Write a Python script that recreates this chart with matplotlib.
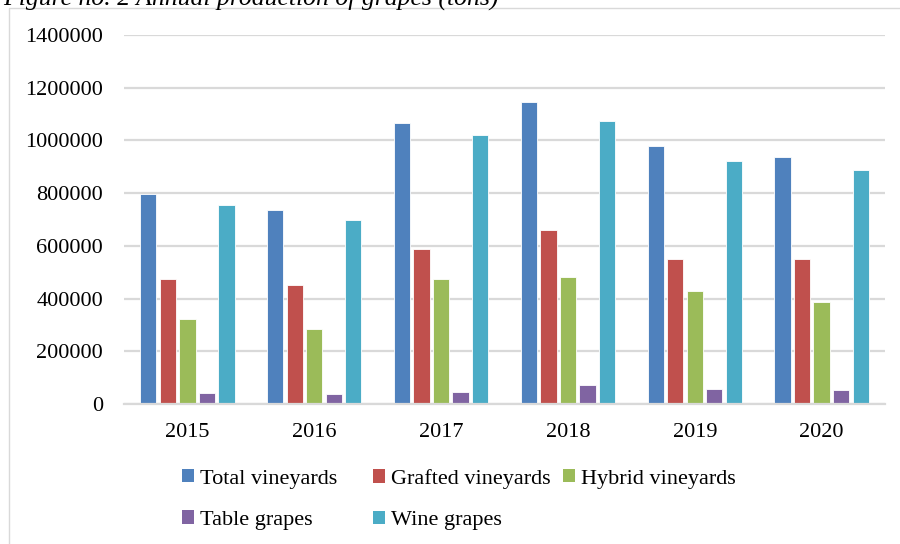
import matplotlib
matplotlib.use("Agg")
import matplotlib.pyplot as plt
import numpy as np
from matplotlib.patches import Rectangle, Patch

years = ["2015", "2016", "2017", "2018", "2019", "2020"]
series_names = ["Total vineyards", "Grafted vineyards", "Hybrid vineyards", "Table grapes", "Wine grapes"]
total_vineyards = [798000, 736000, 1067000, 1144000, 977000, 938000]
grafted_vineyards = [475000, 451000, 589000, 661000, 549000, 550000]
hybrid_vineyards = [322000, 284000, 475000, 482000, 428000, 388000]
table_grapes = [42000, 38000, 47000, 71000, 56000, 52000]
wine_grapes = [755000, 697000, 1019000, 1073000, 922000, 886000]
yticks = [0, 200000, 400000, 600000, 800000, 1000000, 1200000, 1400000]
title = "Figure no. 2 Annual production of grapes (tons)"

colors = ["#4F81BD", "#C0504D", "#9BBB59", "#8064A2", "#4BACC6"]
all_series = [total_vineyards, grafted_vineyards, hybrid_vineyards, table_grapes, wine_grapes]

plt.rcParams['font.family'] = ['Liberation Serif', 'DejaVu Serif']

W, H = 900, 544
fig = plt.figure(figsize=(W / 100, H / 100), dpi=100)

# outer chart border (left and top visible)
fig.patches.append(Rectangle((9 / W, -0.1), 1.2, 1 - 8 / H + 0.1, transform=fig.transFigure,
                             fill=False, edgecolor="#D9D9D9", linewidth=1.0))

fig.text(3 / W, 1 - 5 / H, title, fontsize=18.5, style='italic', va='baseline', ha='left')

ax = fig.add_axes([124 / W, 1 - 404 / H, (885 - 124) / W, (404 - 35) / H])
x = np.arange(len(years))
pitch = 0.154
for i, (vals, c) in enumerate(zip(all_series, colors)):
    ax.bar(x + (i - 2) * pitch, vals, width=0.128, color=c, edgecolor='white',
           linewidth=0.6, zorder=3)

ax.set_xlim(-0.5, len(years) - 0.5)
ax.set_ylim(0, 1400000)
ax.set_yticks(yticks)
ax.set_yticklabels([str(v) for v in yticks])
ax.set_xticks(x)
ax.set_xticklabels(years)
ax.tick_params(axis='both', length=0, labelsize=16)
ax.tick_params(axis='y', pad=15)
ax.tick_params(axis='x', pad=14)
ax.grid(axis='y', color='#D9D9D9', linewidth=1.6, zorder=0)
for s in ['top', 'right', 'left']:
    ax.spines[s].set_visible(False)
ax.spines['bottom'].set_color('#D9D9D9')
ax.spines['bottom'].set_linewidth(1.6)
ax.spines['bottom'].set_zorder(4)

handles = [Patch(facecolor=c, edgecolor='none') for c in colors]
cols = [([0, 3], 182), ([1, 4], 373), ([2], 563)]
for idx, xpix in cols:
    fig.legend([handles[i] for i in idx], [series_names[i] for i in idx],
               loc='upper left', bbox_to_anchor=(xpix / W, 1 - 469 / H),
               frameon=False, fontsize=16, borderpad=0, borderaxespad=0,
               handlelength=0.55, handleheight=0.55, handletextpad=0.25,
               labelspacing=0.98)

fig.savefig("out.png", dpi=100)
